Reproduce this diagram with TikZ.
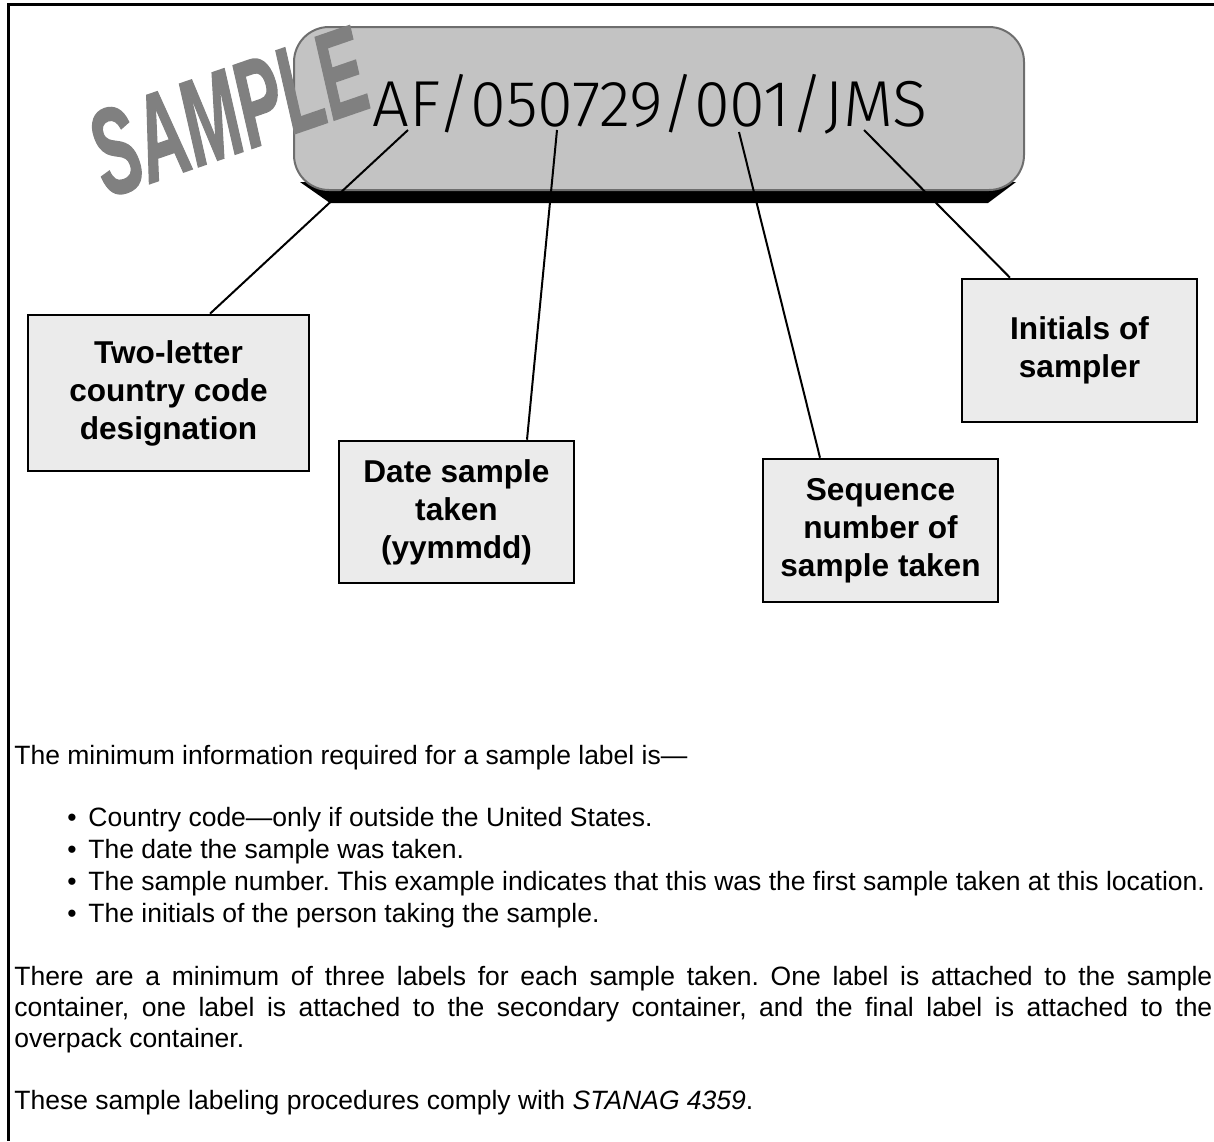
\documentclass[tikz,border=0pt]{standalone}
\usepackage{fontspec}
\setmainfont{Liberation Sans}
\newfontfamily\stampfont{Liberation Sans}[FakeBold=1.4]
\newfontfamily\handfont{Fira Sans Light}
\usepackage{graphicx}
\frenchspacing
\definecolor{boxgray}{HTML}{EBEBEB}
\definecolor{labelgray}{HTML}{C3C3C3}
\definecolor{labeledge}{HTML}{6E6E6E}
\definecolor{stampgray}{HTML}{808080}
\begin{document}
\begin{tikzpicture}[x=0.5pt,y=-0.5pt,
  callout/.style={draw=black, line width=1.3pt, fill=boxgray, align=center,
    font=\bfseries\fontsize{15.8}{19}\selectfont, inner sep=0pt},
  leader/.style={draw=black, line width=1pt},
  body/.style={font=\fontsize{13.25}{15.5}\selectfont, anchor=base west, inner sep=0pt},
  dot/.style={font=\fontsize{13.25}{15.5}\selectfont, anchor=base, inner sep=0pt},
]
\useasboundingbox (0,0) rectangle (1214,1141);

% page frame (top and left rules)
\draw[line width=1.5pt] (1214,4.5) -- (8.5,4.5) -- (8.5,1141);

% sample label: dark lower edge, then the rounded label face
\fill[black] (300,182) -- (1016,182) -- (988,203) -- (330,203) -- cycle;
\draw[draw=labeledge, fill=labelgray, line width=1pt, rounded corners=17.5pt]
  (294,27) rectangle (1024,190);
\node[font=\handfont\fontsize{32.5}{32.5}\selectfont, anchor=base, inner sep=0pt] (code) at (650,126) {AF/050729/001/JMS};

% stamp across the label corner
\node[text=stampgray, rotate=19, inner sep=0pt,
  font=\stampfont\bfseries\itshape\fontsize{34}{34}\selectfont] (stamp) at (228,112)
  {\scalebox{1}[1.8]{SAMPLE}};

% callout boxes
\node[callout, minimum width=140.5pt, minimum height=78pt] (country) at (168.5,393)
  {Two-letter\\country code\\designation};
\node[callout, minimum width=117.5pt, minimum height=71pt] (date) at (456.5,512)
  {Date sample\\taken\\(yymmdd)};
\node[callout, minimum width=117.5pt, minimum height=71.5pt] (seq) at (880.5,530.5)
  {Sequence\\number of\\sample taken};
\node[callout, minimum width=117.5pt, minimum height=71.5pt] (init) at (1079.5,350.5)
  {Initials of\\sampler};

% leader lines from the label fields to the boxes
\coordinate (fAF) at (408,130);
\coordinate (fDate) at (557,130);
\coordinate (fSeq) at (739,132);
\coordinate (fInit) at (864,130);
\draw[leader] (fAF) -- ([xshift=20.75pt]country.north);
\draw[leader] (fDate) -- ([xshift=35.25pt]date.north);
\draw[leader] (fSeq) -- ([xshift=-30.25pt]seq.north);
\draw[leader] (fInit) -- ([xshift=-34.75pt]init.north);

% explanatory text
\node[body] (intro) at (14,764) {The minimum information required for a sample label is—};
\node[dot] (d1) at (72,826) {\textbullet};
\node[body] (b1) at (88,826) {Country code—only if outside the United States.};
\node[dot] (d2) at (72,858) {\textbullet};
\node[body] (b2) at (88,858) {The date the sample was taken.};
\node[dot] (d3) at (72,890) {\textbullet};
\node[body] (b3) at (88,890) {The sample number. This example indicates that this was the first sample taken at this location.};
\node[dot] (d4) at (72,922) {\textbullet};
\node[body] (b4) at (88,922) {The initials of the person taking the sample.};
\node[body] (p1) at (14,985) {\makebox[599pt][s]{There are a minimum of three labels for each sample taken. One label is attached to the sample}};
\node[body] (p2) at (14,1016) {\makebox[599pt][s]{container, one label is attached to the secondary container, and the final label is attached to the}};
\node[body] (p3) at (14,1047) {overpack container.};
\node[body] (p4) at (14,1109) {These sample labeling procedures comply with \textit{STANAG 4359}.};
\end{tikzpicture}
\end{document}
